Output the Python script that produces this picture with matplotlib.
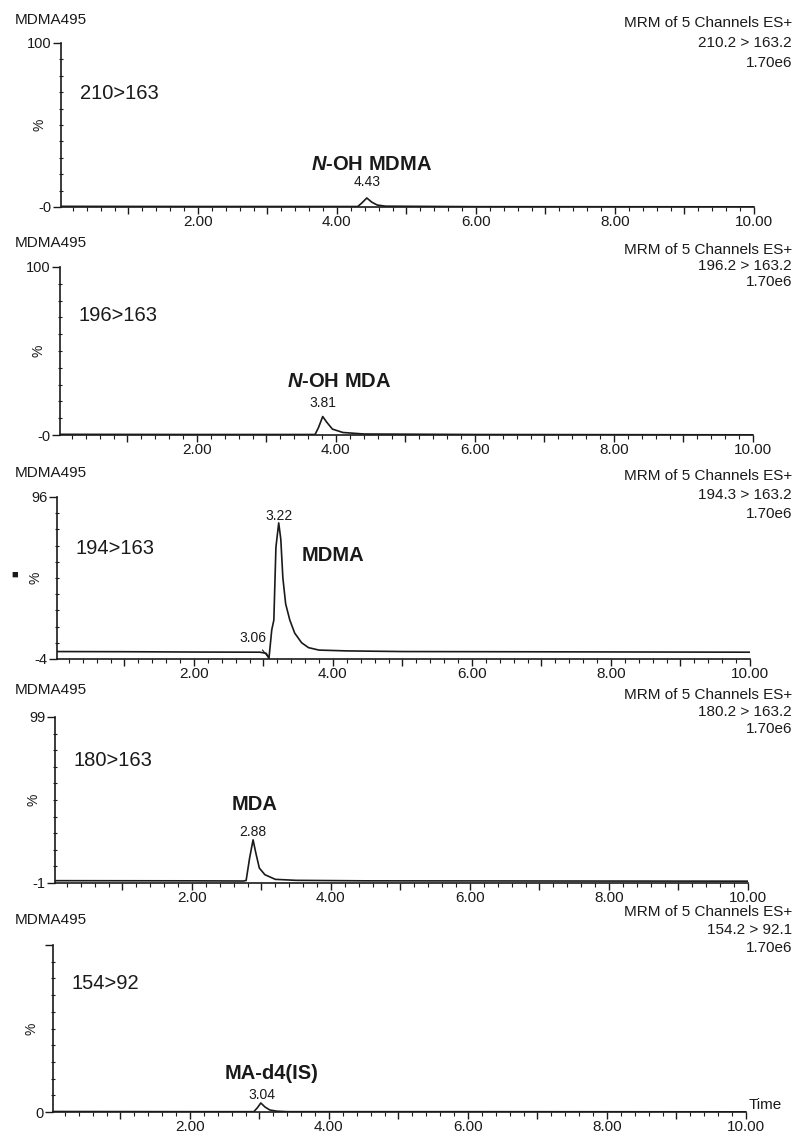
import numpy as np
import matplotlib
matplotlib.use('Agg')
import matplotlib.pyplot as plt
from matplotlib.ticker import FixedLocator, MultipleLocator

plt.rcParams['font.family'] = ['Liberation Sans', 'DejaVu Sans']
plt.rcParams['mathtext.fontset'] = 'custom'
plt.rcParams['mathtext.rm'] = 'Liberation Sans'
plt.rcParams['mathtext.it'] = 'Liberation Sans:italic'
plt.rcParams['mathtext.bf'] = 'Liberation Sans:bold'
plt.rcParams['mathtext.bfit'] = 'Liberation Sans:italic:bold'

# chromatogram traces (time in min, intensity in %)
t_210 = [0.03, 2.0, 4.30, 4.36, 4.43, 4.50, 4.58, 4.70, 6.0, 10.0]
i_210 = [0.4, 0.3, 0.3, 2.5, 5.5, 3.0, 1.2, 0.5, 0.2, 0.1]

t_196 = [0.03, 2.0, 3.70, 3.75, 3.81, 3.87, 3.95, 4.10, 4.40, 6.0, 10.0]
i_196 = [0.4, 0.3, 0.3, 4.5, 11.0, 7.5, 3.5, 1.5, 0.6, 0.3, 0.1]

t_194 = [0.03, 1.0, 2.0, 2.95, 3.04, 3.08, 3.12, 3.15, 3.18, 3.22, 3.25, 3.28,
         3.32, 3.38, 3.45, 3.55, 3.65, 3.80, 4.20, 5.0, 10.0]
i_194 = [0.6, 0.5, 0.3, 0.2, -0.5, -3.5, 14, 20, 65, 80, 70, 46,
         30, 20, 12, 6, 3, 1.5, 1.0, 0.6, 0.2]

t_180 = [0.03, 2.0, 2.74, 2.78, 2.83, 2.88, 2.92, 2.97, 3.05, 3.20, 3.50, 4.5, 10.0]
i_180 = [0.4, 0.3, 0.2, 0.5, 14, 25, 17, 8, 4, 1.2, 0.6, 0.3, 0.1]

t_154 = [0.03, 2.0, 2.92, 2.97, 3.02, 3.08, 3.15, 3.25, 3.40, 6.0, 10.0]
i_154 = [0.3, 0.2, 0.2, 2.5, 5.4, 3.0, 1.2, 0.5, 0.2, 0.2, 0.1]

traces = [(t_210, i_210), (t_196, i_196), (t_194, i_194), (t_180, i_180), (t_154, i_154)]

channels = ['210>163', '196>163', '194>163', '180>163', '154>92']
transitions = ['210.2 > 163.2', '196.2 > 163.2', '194.3 > 163.2', '180.2 > 163.2', '154.2 > 92.1']
y_min = [0, 0, -4, -1, 0]
y_max = [100, 100, 96, 99, 100]
y_min_labels = ['-0', '-0', '-4', '-1', '0']
y_max_labels = ['100', '100', '96', '99', '']
compounds = [r'$\mathbfit{N}$-OH MDMA', r'$\mathbfit{N}$-OH MDA', 'MDMA', 'MDA', 'MA-d4(IS)']
peak_times = [4.43, 3.81, 3.22, 2.88, 3.04]

# layout (pixels in the 803x1138 figure)
W, H = 803, 1138
ax_top = [43, 267, 497, 717, 945]
ax_bot = [207, 435, 659, 883, 1112]
ax_left = [61, 60, 57, 55, 53]
px_per_min = 69.5
title_y = [20, 243, 473, 690, 920]
hdr_y = [23, 250, 476, 695, 912]
hdr_step = [20, 16, 19, 17, 18]
chan_pos = [(0.3, 69), (0.3, 71), (0.3, 64), (0.3, 73), (0.3, 77)]
comp_pos = [(4.5, 26), (4.04, 32), (4.0, 60), (2.9, 46), (3.17, 23)]
peak_lbl_y = [15, 19, 84, 30, 10]

ink = '#1a1a1a'
fig = plt.figure(figsize=(W / 100, H / 100), dpi=100)

for k in range(5):
    left = ax_left[k]
    width = px_per_min * (10.0 - 0.03)
    ax = fig.add_axes([left / W, 1 - ax_bot[k] / H, width / W, (ax_bot[k] - ax_top[k]) / H])
    t, inten = traces[k]
    ax.plot(t, inten, color=ink, lw=1.2)

    ax.set_xlim(0.03, 10.0)
    ax.set_ylim(y_min[k], y_max[k])
    for s in ['top', 'right']:
        ax.spines[s].set_visible(False)
    for s in ['left', 'bottom']:
        ax.spines[s].set_color(ink)
        ax.spines[s].set_linewidth(1.2)

    ax.xaxis.set_major_locator(FixedLocator(np.arange(1, 11)))
    ax.set_xticklabels(['%.2f' % v if v % 2 == 0 else '' for v in range(1, 11)])
    ax.xaxis.set_minor_locator(MultipleLocator(0.2))
    ax.tick_params(axis='x', which='major', length=5, width=1, pad=1, labelsize=11, colors=ink)
    ax.tick_params(axis='x', which='minor', length=3, width=0.8, colors=ink)

    ax.yaxis.set_major_locator(FixedLocator([y_min[k], y_max[k]]))
    ax.set_yticklabels([y_min_labels[k], y_max_labels[k]])
    ax.yaxis.set_minor_locator(FixedLocator(np.arange(y_min[k] + 10, y_max[k], 10)))
    ax.tick_params(axis='y', which='major', length=6, width=1, pad=1, labelsize=10.5, colors=ink)
    ax.tick_params(axis='y', which='minor', length=3, width=0.8, direction='inout', colors=ink)

    ax.set_ylabel('%', fontsize=10, rotation=90, color=ink)
    ax.yaxis.set_label_coords(-0.021, 0.5)

    # headers
    fig.text(15 / W, 1 - title_y[k] / H, 'MDMA495', fontsize=11, va='center', ha='left', color=ink)
    for j, line in enumerate(['MRM of 5 Channels ES+', transitions[k], '1.70e6']):
        fig.text(792 / W, 1 - (hdr_y[k] + hdr_step[k] * j) / H, line, fontsize=11,
                 va='center', ha='right', color=ink)

    ax.text(chan_pos[k][0], chan_pos[k][1], channels[k], fontsize=14.5,
            va='center', ha='left', color=ink)
    ax.text(comp_pos[k][0], comp_pos[k][1], compounds[k], fontsize=14.5,
            fontweight='bold', va='center', ha='center', color=ink)
    ax.text(peak_times[k], peak_lbl_y[k], '%.2f' % peak_times[k], fontsize=10,
            va='center', ha='center', color=ink)

    if k == 2:
        ax.annotate('3.06', xy=(3.08, -3.5), xytext=(2.85, 9), fontsize=10,
                    va='center', ha='center', color=ink,
                    arrowprops=dict(arrowstyle='-', color=ink, lw=0.8,
                                    shrinkA=2, shrinkB=0))
        fig.text(15 / W, 1 - 575 / H, '\u25a0', fontsize=8, va='center', ha='center', color=ink)
    if k == 4:
        ax.text(1.004, 0.0, 'Time', transform=ax.transAxes, fontsize=11,
                va='bottom', ha='left', color=ink)

fig.savefig('out.png', dpi=100)
